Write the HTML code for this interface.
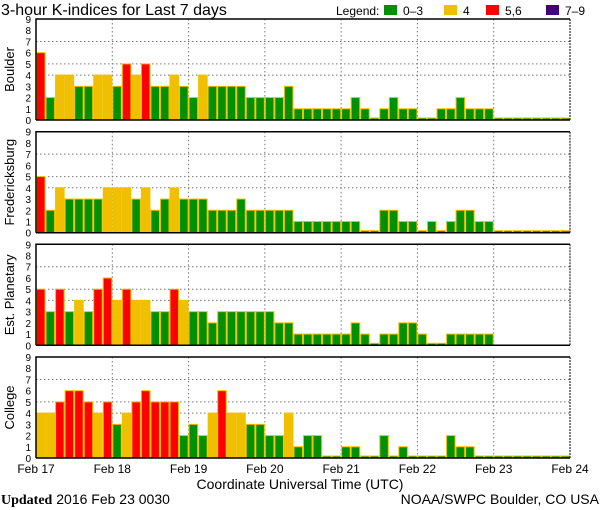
<!DOCTYPE html>
<html><head><meta charset="utf-8"><style>
body{margin:0;background:#fff;width:600px;height:510px;overflow:hidden}
svg{display:block;font-family:"Liberation Sans",sans-serif}
</style></head><body>
<svg id="chart" width="600" height="510" viewBox="0 0 600 510" xmlns="http://www.w3.org/2000/svg">
<text x="1" y="15" font-size="16">3-hour K-indices for Last 7 days</text>
<g font-size="12">
<text x="336" y="15">Legend:</text>
<rect x="384" y="5" width="13" height="10" fill="#009000"/><text x="403" y="15">0–3</text>
<rect x="444" y="5" width="13" height="10" fill="#f0c000"/><text x="463" y="15">4</text>
<rect x="486" y="5" width="13" height="10" fill="#ff0000"/><text x="505" y="15">5,6</text>
<rect x="546" y="5" width="13" height="10" fill="#400080"/><text x="565" y="15">7–9</text>
</g>
<g id="panels"></g>
<text x="300" y="489" font-size="14" text-anchor="middle">Coordinate Universal Time (UTC)</text>
<text x="1" y="504" font-size="14"><tspan font-weight="bold" font-family="Liberation Serif, serif">Updated</tspan> 2016 Feb 23 0030</text>
<text x="599" y="504" font-size="14" text-anchor="end">NOAA/SWPC Boulder, CO USA</text>
</svg>
<script>
const stations = ["Boulder","Fredericksburg","Est. Planetary","College"];
const boulder = [6,2,4,4,3,3,4,4, 3,5,4,5,3,3,4,3, 2,4,3,3,3,3,2,2, 2,2,3,1,1,1,1,1, 1,2,1,0,1,2,1,1, 0,0,1,1,2,1,1,1, 0,0,0,0,0,0,0,0];
const fredericksburg = [5,2,4,3,3,3,3,4, 4,4,3,4,2,3,4,3, 3,3,2,2,2,3,2,2, 2,2,2,1,1,1,1,1, 1,1,0,0,2,2,1,1, 0,1,0,1,2,2,1,1, 0,0,0,0,0,0,0,0];
const planetary = [5,3,5,3,4,3,5,6, 4,5,4,4,3,3,5,4, 3,3,2,3,3,3,3,3, 3,2,2,1,1,1,1,1, 1,2,1,0,1,1,2,2, 1,0,0,1,1,1,1,1, null,null,null,null,null,null,null,null];
const college = [4,4,5,6,6,5,4,5, 3,4,5,6,5,5,5,2, 3,2,4,6,4,4,3,3, 2,2,4,1,2,2,0,0, 1,1,0,0,2,0,1,0, 0,0,0,2,1,1,0,0, 0,0,0,0,0,0,0,0];
const dayLabels = ["Feb 17","Feb 18","Feb 19","Feb 20","Feb 21","Feb 22","Feb 23","Feb 24"];
const yTicks = [0,1,2,3,4,5,6,7,8,9];
const gridLevels = [4,5,7];

const series = [boulder,fredericksburg,planetary,college];
const NS="http://www.w3.org/2000/svg";
const X0=36,X1=570,H=101,N=56;
const tops=[19,131.7,244.3,357];
const xScale=i=>X0+(X1-X0)*i/N;
const dayX=d=>X0+(X1-X0)*d/(dayLabels.length-1);
function color(v){return v<=3?"#009000":v===4?"#f0c000":v<=6?"#ff0000":"#400080";}
function mk(tag,attrs,parent){const e=document.createElementNS(NS,tag);for(const k in attrs)e.setAttribute(k,attrs[k]);parent.appendChild(e);return e;}
const root=document.getElementById('panels');
series.forEach((data,p)=>{
  const top=tops[p],bot=top+H;
  const yScale=v=>bot-H*v/9;
  const g=mk('g',{},root);
  
  
  gridLevels.forEach(l=>{
    const ln=mk('line',{x1:X0,x2:X1,y1:yScale(l),y2:yScale(l),stroke:'#777','stroke-dasharray':'1.5,2.5'},g);
    
    
  });
  for(let d=1;d<dayLabels.length-1;d++){
    const ln=mk('line',{x1:dayX(d),x2:dayX(d),y1:top,y2:bot,stroke:'#777','stroke-dasharray':'1.5,2.5'},g);
    
    
  }
  data.forEach((v,i)=>{
    if(v===null)return;
    const x=xScale(i),w=xScale(i+1)-x;
    const h=v===0?2:H*v/9;
    const r=mk('rect',{x:x+0.5,y:bot-h,width:w-1,height:h,fill:color(v),stroke:'#f0c000','stroke-width':1},g);
    
    
  });
  const ax=mk('path',{d:`M${X0},${bot}V${top}H${X1}`,fill:'none',stroke:'#000','stroke-width':1.5},g);
  
  
  const bl=mk('line',{x1:X0,x2:X1,y1:bot,y2:bot,stroke:'#000','stroke-width':1.5},g);
  
  
  const rb=mk('line',{x1:X1,x2:X1,y1:top,y2:bot,stroke:'#000','stroke-dasharray':'2,1'},g);
  
  
  yTicks.forEach(t=>{
    const tx=mk('text',{x:31,y:yScale(t)+4,'font-size':10,'text-anchor':'end'},g);
    
    
    tx.textContent=t;
  });
  const cy=top+H/2;
  const lab=mk('text',{x:14,y:cy,'font-size':13,'text-anchor':'middle',transform:`rotate(-90 14 ${cy})`},g);
  
  
  lab.textContent=stations[p];
});
dayLabels.forEach((d,i)=>{
  const t=mk('text',{x:dayX(i),y:473,'font-size':12,'text-anchor':'middle'},root);
  
  
  t.textContent=d;
});
</script>
</body></html>
